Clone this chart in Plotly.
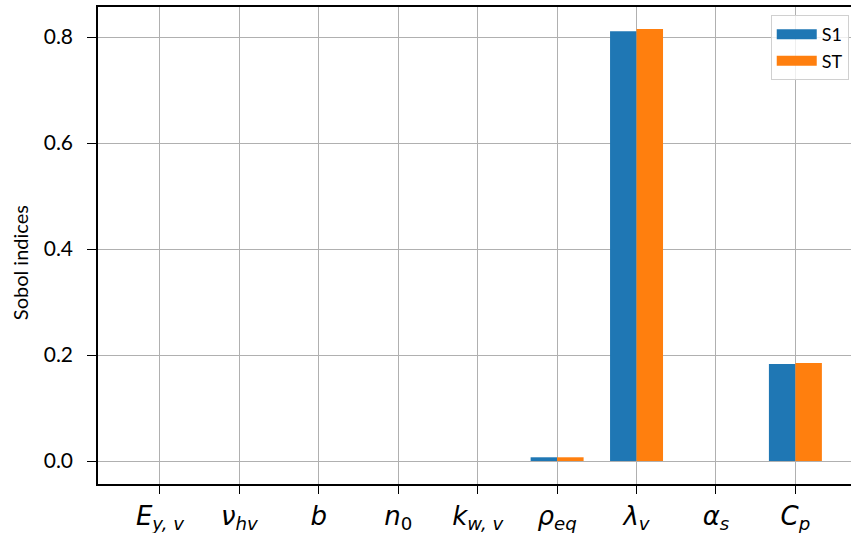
import plotly.graph_objects as go

categories = ["E_yv", "nu_hv", "b", "n0", "k_wv", "rho_eq", "lambda_v", "alpha_s", "C_p"]
tick_labels = ["<i>E</i><sub><i>y, v</i></sub>", "<i>ν</i><sub><i>hv</i></sub>", "<i>b</i>",
               "<i>n</i><sub>0</sub>", "<i>k</i><sub><i>w, v</i></sub>", "<i>ρ</i><sub><i>eq</i></sub>",
               "<i>λ</i><sub><i>v</i></sub>", "<i>α</i><sub><i>s</i></sub>", "<i>C</i><sub><i>p</i></sub>"]
s1 = [0.0, 0.0, 0.0, 0.0, 0.0, 0.007, 0.811, 0.0, 0.183]
st = [0.0, 0.0, 0.0, 0.0, 0.0, 0.007, 0.815, 0.0, 0.185]
y_ticks = [0.0, 0.2, 0.4, 0.6, 0.8]
series_names = ["S1", "ST"]
series_colors = ["#1f77b4", "#ff7f0e"]
y_title = "Sobol indices"

x = list(range(len(categories)))
fig = go.Figure()
for name, vals, col, g in zip(series_names, [s1, st], series_colors, [0, 1]):
    fig.add_trace(go.Bar(x=x, y=vals, name=name, marker=dict(color=col, line=dict(width=0)),
                         offsetgroup=g, showlegend=False))
# legend entries drawn as wide swatches
for name, col in zip(series_names, series_colors):
    fig.add_trace(go.Scatter(x=[None], y=[None], mode="lines", name=name,
                             line=dict(color=col, width=15), showlegend=True))

fig.update_layout(
    width=851, height=533,
    margin=dict(l=98, r=0, t=7, b=49),
    paper_bgcolor="white", plot_bgcolor="white",
    barmode="group", bargap=0.333, bargroupgap=0,
    font=dict(family="Lato, sans-serif", color="black"),
    legend=dict(x=0.997, y=0.983, xanchor="right", yanchor="top",
                bordercolor="#d0d0d0", borderwidth=1, bgcolor="rgba(255,255,255,0.8)",
                font=dict(size=18, family="Lato"), itemwidth=40, tracegroupgap=6),
    showlegend=True,
)
fig.update_xaxes(
    range=[-0.78, 8.70], tickmode="array", tickvals=x, ticktext=tick_labels,
    tickfont=dict(size=26, family="DejaVu Sans"), showgrid=True, gridcolor="#b0b0b0", gridwidth=1,
    showline=True, linecolor="black", linewidth=1.5, mirror=True,
    ticks="outside", ticklen=8, tickcolor="black", zeroline=False,
)
fig.update_yaxes(
    range=[-0.0434, 0.8566], tickmode="array", tickvals=y_ticks,
    ticktext=[f"{v:.1f}" for v in y_ticks],
    ticklabelposition="outside", ticklabelstandoff=10,
    tickfont=dict(size=21, family="Lato"), showgrid=True, gridcolor="#b0b0b0", gridwidth=1,
    showline=True, linecolor="black", linewidth=1.5,
    ticks="outside", ticklen=9, tickcolor="black", zeroline=False,
)
fig.add_annotation(text=y_title, textangle=-90, xref="paper", yref="paper",
                   x=0, y=0.463, xanchor="center", yanchor="middle", xshift=-78,
                   showarrow=False, font=dict(size=20, family="Lato", color="black"))
fig.write_html("out.html")
